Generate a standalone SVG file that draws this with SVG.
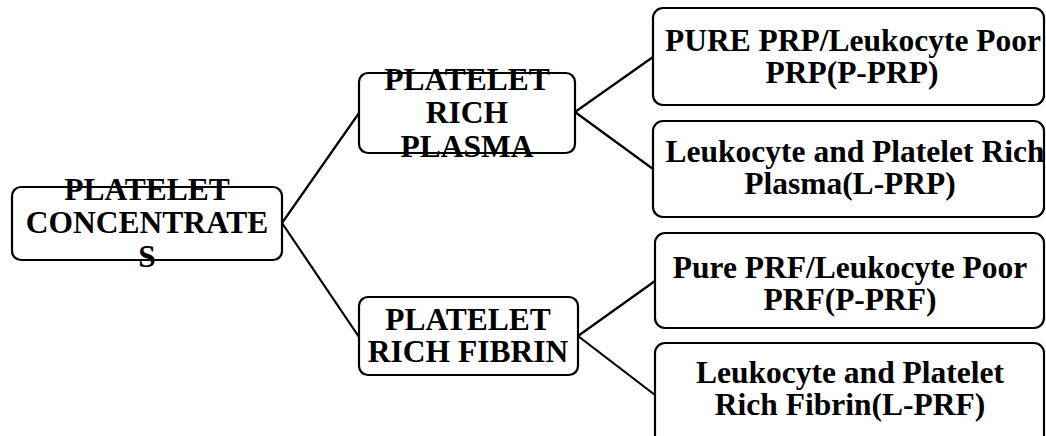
<svg xmlns="http://www.w3.org/2000/svg" width="1046" height="436" viewBox="0 0 1046 436">
<style>
.box{fill:#fff;stroke:#000;stroke-width:2.2}
.t{font-family:"Liberation Serif","Times New Roman",serif;font-weight:bold;font-size:31.5px;text-anchor:middle;fill:#000}
.c{stroke:#000;stroke-width:2.2;fill:none}
</style>
<rect width="1046" height="436" fill="#fff"/>
<g id="connectors">
<line class="c" x1="282" y1="223" x2="359" y2="113"/>
<line class="c" x1="282" y1="223" x2="359" y2="337"/>
<line class="c" x1="575" y1="112" x2="653" y2="57"/>
<line class="c" x1="575" y1="112" x2="653" y2="169"/>
<line class="c" x1="578" y1="336" x2="655" y2="281"/>
<line class="c" x1="578" y1="336" x2="655" y2="395"/>
</g>
<g id="root">
<rect class="box" x="12" y="187" width="270" height="73" rx="9"/>
<text class="t" x="147" y="200">PLATELET</text>
<text class="t" x="147" y="233">CONCENTRATE</text>
<text class="t" x="147" y="267">S</text>
</g>
<g id="prp">
<rect class="box" x="359" y="73" width="216" height="80" rx="9"/>
<text class="t" x="467" y="90">PLATELET</text>
<text class="t" x="467" y="123">RICH</text>
<text class="t" x="467" y="157">PLASMA</text>
</g>
<g id="prf">
<rect class="box" x="359" y="297" width="219" height="78" rx="9"/>
<text class="t" x="468" y="330">PLATELET</text>
<text class="t" x="468" y="362">RICH FIBRIN</text>
</g>
<g id="pprp">
<rect class="box" x="653" y="8" width="391" height="97" rx="10"/>
<text class="t" x="853" y="51">PURE PRP/Leukocyte Poor</text>
<text class="t" x="852" y="83">PRP(P-PRP)</text>
</g>
<g id="lprp">
<rect class="box" x="653" y="121" width="391" height="96" rx="10"/>
<text class="t" x="855" y="162">Leukocyte and Platelet Rich</text>
<text class="t" x="850" y="194">Plasma(L-PRP)</text>
</g>
<g id="pprf">
<rect class="box" x="655" y="233" width="389" height="95" rx="10"/>
<text class="t" x="850" y="278">Pure PRF/Leukocyte Poor</text>
<text class="t" x="850" y="310">PRF(P-PRF)</text>
</g>
<g id="lprf">
<rect class="box" x="655" y="343" width="389" height="110" rx="10"/>
<text class="t" x="850" y="383">Leukocyte and Platelet</text>
<text class="t" x="850" y="415">Rich Fibrin(L-PRF)</text>
</g>
</svg>
